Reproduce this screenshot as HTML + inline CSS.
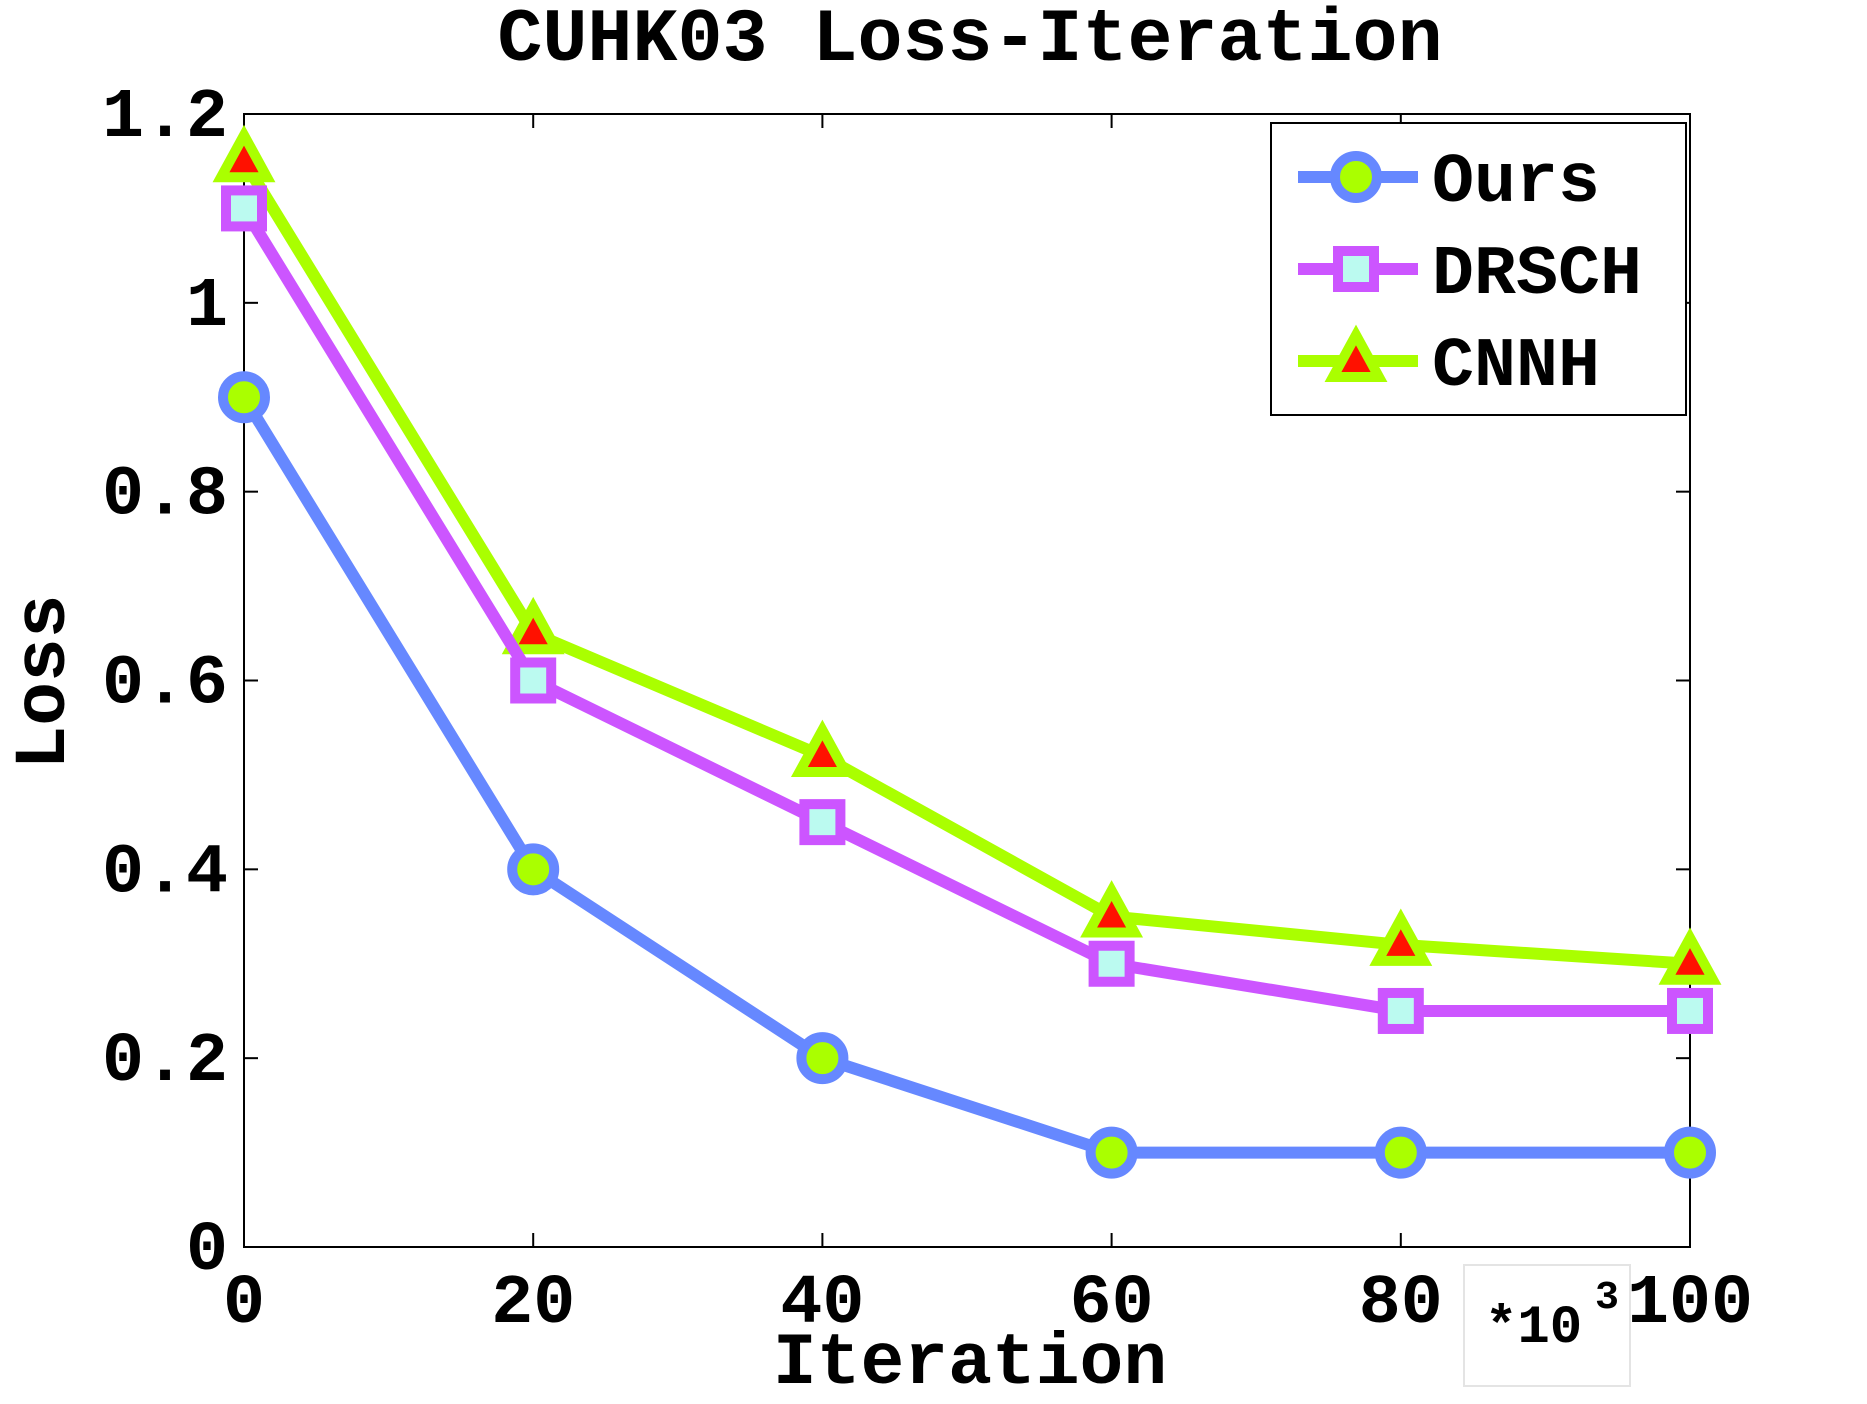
<!DOCTYPE html>
<html><head><meta charset="utf-8"><style>
html,body{margin:0;padding:0;background:#fff;}
svg{display:block;}
text{font-family:"Liberation Mono",monospace;font-weight:bold;fill:#000;}
</style></head><body>
<svg id="chart" width="1867" height="1404" viewBox="0 0 1867 1404" xmlns="http://www.w3.org/2000/svg">
<text x="970" y="60" font-size="75" text-anchor="middle">CUHK03 Loss-Iteration</text>
<rect x="244" y="114" width="1446" height="1133" fill="none" stroke="#000" stroke-width="2"/>
<g id="ticks"></g>
<g id="series"></g>
<text x="970" y="1383" font-size="73" text-anchor="middle">Iteration</text>
<text x="0" y="0" font-size="73" text-anchor="middle" transform="translate(64,682) rotate(-90)">Loss</text>
<g>
<rect x="1464" y="1265" width="166" height="121" fill="none" stroke="#e4e4e4" stroke-width="2"/>
<text x="1485" y="1342" font-size="54">*10</text>
<text x="1595" y="1308" font-size="40">3</text>
</g>
<g>
<rect x="1271" y="123" width="415" height="292" fill="#fff" stroke="#000" stroke-width="2"/>
</g>
<g id="legend-items"></g>
</svg>
<script>
const categories = [0, 20, 40, 60, 80, 100];
const oursValues = [0.9, 0.4, 0.2, 0.1, 0.1, 0.1];
const drschValues = [1.1, 0.6, 0.45, 0.3, 0.25, 0.25];
const cnnhValues = [1.15, 0.65, 0.52, 0.35, 0.32, 0.30];
const yTicks = [0, 0.2, 0.4, 0.6, 0.8, 1, 1.2];
const yTickLabels = ["0", "0.2", "0.4", "0.6", "0.8", "1", "1.2"];
const xTickLabels = ["0", "20", "40", "60", "80", "100"];
const seriesNames = ["Ours", "DRSCH", "CNNH"];

const NS = "http://www.w3.org/2000/svg";
const L = 244, R = 1690, T = 114, B = 1247;
const xs = v => L + (v - 0) / 100 * (R - L);
const ys = v => B - v / 1.2 * (B - T);
function mk(tag, attrs, parent) {
  const e = document.createElementNS(NS, tag);
  for (const k in attrs) e.setAttribute(k, attrs[k]);
  parent.appendChild(e);
  return e;
}
const ticks = document.getElementById('ticks');
yTicks.forEach((v, i) => {
  const y = ys(v);
  const l1 = mk('line', {x1: L, x2: L + 14, y1: y, y2: y, stroke: '#000', 'stroke-width': 2}, ticks);
  
  
  const l2 = mk('line', {x1: R, x2: R - 14, y1: y, y2: y, stroke: '#000', 'stroke-width': 2}, ticks);
  
  
  const t = mk('text', {x: 228, y: y + 22, 'font-size': 70, 'text-anchor': 'end'}, ticks);
  t.textContent = yTickLabels[i];
  
  
});
categories.forEach((v, i) => {
  const x = xs(v);
  const l1 = mk('line', {x1: x, x2: x, y1: B, y2: B - 14, stroke: '#000', 'stroke-width': 2}, ticks);
  
  
  const l2 = mk('line', {x1: x, x2: x, y1: T, y2: T + 14, stroke: '#000', 'stroke-width': 2}, ticks);
  
  
  const t = mk('text', {x: x, y: 1322, 'font-size': 70, 'text-anchor': 'middle'}, ticks);
  t.textContent = xTickLabels[i];
  
  
});

function marker(type, x, y, g) {
  let m;
  if (type === 'circle') {
    m = mk('circle', {cx: x, cy: y, r: 21, fill: '#aaff00', stroke: '#6688ff', 'stroke-width': 10}, g);
  } else if (type === 'square') {
    m = mk('rect', {x: x - 18, y: y - 18, width: 36, height: 36, fill: '#bbfaf0', stroke: '#cc55ff', 'stroke-width': 10}, g);
  } else {
    m = mk('polygon', {points: `${x},${y-26} ${x+23},${y+16} ${x-23},${y+16}`, fill: '#ff1100', stroke: '#aaff00', 'stroke-width': 10, 'stroke-linejoin': 'miter'}, g);
  }
  return m;
}
const seriesDefs = [
  {vals: cnnhValues, color: '#aaff00', type: 'tri', name: 'cnnh'},
  {vals: drschValues, color: '#cc55ff', type: 'square', name: 'drsch'},
  {vals: oursValues, color: '#6688ff', type: 'circle', name: 'ours'}
];
const sg = document.getElementById('series');
seriesDefs.forEach(s => {
  const g = mk('g', {}, sg);
  
  
  const pts = s.vals.map((v, i) => xs(categories[i]) + ',' + ys(v)).join(' ');
  const pl = mk('polyline', {points: pts, fill: 'none', stroke: s.color, 'stroke-width': 12, 'stroke-linejoin': 'round'}, g);
  
  
  s.vals.forEach((v, i) => {
    const m = marker(s.type, xs(categories[i]), ys(v), g);
    
    
  });
});

const lg = document.getElementById('legend-items');
const legendDefs = [
  {color: '#6688ff', type: 'circle'},
  {color: '#cc55ff', type: 'square'},
  {color: '#aaff00', type: 'tri'}
];
legendDefs.forEach((d, i) => {
  const y = 177 + i * 92;
  const g = mk('g', {}, lg);
  
  
  mk('line', {x1: 1298, x2: 1418, y1: y, y2: y, stroke: d.color, 'stroke-width': 12}, g);
  marker(d.type, 1356, y, g);
  const t = mk('text', {x: 1432, y: y + 24, 'font-size': 70}, g);
  t.textContent = seriesNames[i];
});
</script>
</body></html>
